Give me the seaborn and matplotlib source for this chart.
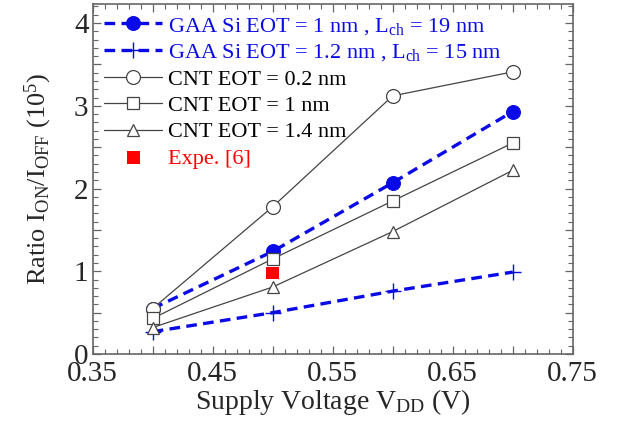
import numpy as np
import pandas as pd
import matplotlib
matplotlib.use("Agg")
import matplotlib.pyplot as plt
import seaborn as sns
from matplotlib.ticker import MultipleLocator, FuncFormatter

# data
vdd = [0.4, 0.5, 0.6, 0.7]
gaa_eot1 = [0.55, 1.24, 2.07, 2.93]
gaa_eot12 = [0.27, 0.50, 0.76, 0.99]
cnt_eot02 = [0.55, 1.78, 3.12, 3.41]
cnt_eot1 = [0.43, 1.15, 1.85, 2.55]
cnt_eot14 = [0.32, 0.81, 1.48, 2.22]
expe_vdd = [0.5]
expe_ratio = [0.98]

labels = [r'GAA Si EOT = 1 nm , L$_{\rm ch}$ = 19 nm',
          r'GAA Si EOT = 1.2 nm , L$_{\rm ch}$ = 15 nm',
          'CNT EOT = 0.2 nm', 'CNT EOT = 1 nm', 'CNT EOT = 1.4 nm',
          'Expe. [6]']

sns.set_style('ticks')
plt.rcParams['font.family'] = ['Liberation Serif', 'DejaVu Serif']
plt.rcParams['mathtext.fontset'] = 'custom'
plt.rcParams['mathtext.rm'] = 'Liberation Serif'
plt.rcParams['mathtext.it'] = 'Liberation Serif:italic'
plt.rcParams['mathtext.bf'] = 'Liberation Serif:bold'

fig = plt.figure(figsize=(6.19, 4.21), dpi=100)
ax = fig.add_axes([0.1498, 0.1591, 0.9252 - 0.1498, 0.9905 - 0.1591])

blue = '#0a0ae8'
grey = '#444444'
dash = (0, (3.2, 1.9))

sns.lineplot(x=vdd, y=gaa_eot1, ax=ax, color=blue, lw=2.4, linestyle=dash,
             marker='o', markersize=10, markerfacecolor=blue, markeredgecolor=blue,
             label=labels[0])
sns.lineplot(x=vdd, y=gaa_eot12, ax=ax, color=blue, lw=2.4, linestyle=dash,
             marker='+', markersize=11, markeredgewidth=1.0, markeredgecolor=blue,
             label=labels[1])
sns.lineplot(x=vdd, y=cnt_eot02, ax=ax, color=grey, lw=0.9,
             marker='o', markersize=10, markerfacecolor='white', markeredgecolor=grey,
             markeredgewidth=0.9, label=labels[2])
sns.lineplot(x=vdd, y=cnt_eot1, ax=ax, color=grey, lw=0.9,
             marker='s', markersize=9, markerfacecolor='white', markeredgecolor=grey,
             markeredgewidth=0.9, label=labels[3])
sns.lineplot(x=vdd, y=cnt_eot14, ax=ax, color=grey, lw=0.9,
             marker='^', markersize=9, markerfacecolor='white', markeredgecolor=grey,
             markeredgewidth=0.9, label=labels[4])
sns.scatterplot(x=expe_vdd, y=expe_ratio, ax=ax, color='#ff0000', marker='s',
                s=85, edgecolor='none', label=labels[5], zorder=1)

ax.set_xlim(0.35, 0.75)
ax.set_ylim(0, 4.23)
ax.xaxis.set_major_locator(MultipleLocator(0.05))
ax.xaxis.set_minor_locator(MultipleLocator(0.01))
ax.yaxis.set_major_locator(MultipleLocator(0.5))
ax.yaxis.set_minor_locator(MultipleLocator(0.1))
ax.xaxis.set_major_formatter(FuncFormatter(
    lambda v, p: f'{v:.2f}' if abs(round(v * 20) % 2 - 1) < 0.5 else ''))
ax.yaxis.set_major_formatter(FuncFormatter(
    lambda v, p: f'{v:.0f}' if abs(v - round(v)) < 1e-6 else ''))
ax.tick_params(which='both', direction='in', top=True, right=True,
               color='#666666', labelsize=21)
ax.tick_params(axis='x', pad=5)
ax.tick_params(axis='y', pad=3)
ax.tick_params(which='major', length=6, width=0.9)
ax.tick_params(which='minor', length=3.5, width=0.8)
for s in ax.spines.values():
    s.set_color('#666666')
    s.set_linewidth(1.2)

ax.set_xlabel(r'Supply Voltage V$_{\rm DD}$ (V)', fontsize=20, labelpad=0)
ax.set_ylabel(r'Ratio I$_{\rm ON}$/I$_{\rm OFF}$ (10$^5$)', fontsize=19, labelpad=14)

leg = ax.legend(loc='upper left', bbox_to_anchor=(0.0, 1.0), frameon=False,
                fontsize=16, handlelength=2.6, handletextpad=0.25,
                labelspacing=0.26, borderaxespad=0.42, borderpad=0.1)
text_colors = [blue, blue, 'black', 'black', 'black', '#ff0000']
for t, c in zip(leg.get_texts(), text_colors):
    t.set_color(c)

fig.savefig('out.png', dpi=100)
